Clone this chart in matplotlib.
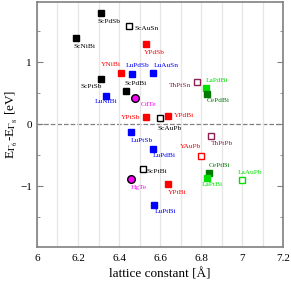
import matplotlib
matplotlib.use("Agg")
import matplotlib.pyplot as plt
from matplotlib.ticker import MultipleLocator, FixedLocator

plt.rcParams['font.family'] = ['Liberation Serif', 'DejaVu Serif']
plt.rcParams['mathtext.fontset'] = 'stix'

# compound, lattice constant [A], E_G6 - E_G8 [eV], group
names = ['ScPdSb', 'ScAuSn', 'ScNiBi', 'YPdSb', 'YNiBi', 'LuPdSb', 'LuAuSn',
         'ScPtSb', 'ScPdBi', 'LuNiBi', 'CdTe', 'YPtSb', 'ScAuPb', 'YPdBi',
         'ThPtSn', 'LaPdBi', 'CePdBi', 'LuPtSb', 'ThPtPb', 'LuPdBi', 'YAuPb',
         'ScPtBi', 'CePtBi', 'LaPtBi', 'LaAuPb', 'HgTe', 'YPtBi', 'LuPtBi']
lattice = [6.31, 6.45, 6.19, 6.533, 6.408, 6.463, 6.564,
           6.311, 6.434, 6.338, 6.48, 6.53, 6.60, 6.64,
           6.779, 6.824, 6.83, 6.457, 6.849, 6.564, 6.798,
           6.515, 6.839, 6.828, 7.0, 6.457, 6.64, 6.572]
gap = [1.795, 1.585, 1.39, 1.295, 0.834, 0.82, 0.834,
       0.73, 0.543, 0.463, 0.42, 0.113, 0.108, 0.14,
       0.677, 0.59, 0.49, -0.13, -0.18, -0.39, -0.51,
       -0.716, -0.78, -0.86, -0.90, -0.876, -0.97, -1.30]
groups = ['Sc', 'Sc_open', 'Sc', 'Y', 'Y', 'Lu', 'Lu',
          'Sc', 'Sc', 'Lu', 'II', 'Y', 'Sc_open', 'Y',
          'Th_open', 'La', 'Ce', 'Lu', 'Th_open', 'Lu', 'Y_open',
          'Sc_open', 'Ce', 'La', 'La_open', 'II', 'Y', 'Lu']

# marker style per group: colour, marker, filled
styles = {
    'Sc': ('black', 's', True),
    'Sc_open': ('black', 's', False),
    'Y': ('#ff0000', 's', True),
    'Y_open': ('#ff0000', 's', False),
    'Lu': ('#0000ff', 's', True),
    'La': ('#00e000', 's', True),
    'La_open': ('#00e000', 's', False),
    'Ce': ('#007a00', 's', True),
    'Th_open': ('#8b2252', 's', False),
    'II': ('#ff00ff', 'o', True),
}

# label offsets in points (dx, dy, horizontal alignment)
offsets = {
    'ScPdSb': (6, -6, 'center'), 'ScAuSn': (4, -2, 'left'), 'ScNiBi': (6, -6, 'center'),
    'YPdSb': (6, -6, 'center'), 'YNiBi': (-7, 6, 'center'), 'LuPdSb': (4, 6, 'center'),
    'LuAuSn': (10, 5, 'center'), 'ScPtSb': (-7, -5, 'center'), 'ScPdBi': (7, 5, 'center'),
    'LuNiBi': (0, -4.5, 'center'), 'CdTe': (4, -4.5, 'left'), 'YPtSb': (-4, 0, 'right'),
    'ScAuPb': (7, -8, 'center'), 'YPdBi': (4, 0.5, 'left'), 'ThPtSn': (-4, -2.5, 'right'),
    'LaPdBi': (0, 5, 'left'), 'CePdBi': (0, -5, 'left'), 'LuPtSb': (0, -6, 'left'),
    'ThPtPb': (0, -6, 'left'), 'LuPdBi': (0, -5, 'left'), 'YAuPb': (-7, 6.5, 'center'),
    'ScPtBi': (3, -2, 'left'), 'CePtBi': (0, 5.5, 'left'), 'LaPtBi': (-4, -5, 'left'),
    'LaAuPb': (-3, 5.5, 'left'), 'HgTe': (0, -6, 'left'), 'YPtBi': (0, -6, 'left'),
    'LuPtBi': (0, -5, 'left'),
}

fig = plt.figure(figsize=(2.91, 2.84), dpi=100)
ax = fig.add_axes([0.127, 0.130, 0.846, 0.864])

for i, name in enumerate(names):
    color, marker, filled = styles[groups[i]]
    face = color if filled else 'white'
    edge = 'black' if marker == 'o' else color
    size = 5.5 if marker == 'o' else 5
    ax.plot(lattice[i], gap[i], marker=marker, ms=size, mfc=face, mec=edge,
            mew=1.0, ls='none', zorder=3)
    dx, dy, ha = offsets[name]
    label_color = 'black' if groups[i].startswith('Sc') else color
    ax.annotate(name, (lattice[i], gap[i]), xytext=(dx, dy),
                textcoords='offset points', ha=ha, va='center',
                fontsize=5.3, color=label_color, zorder=4)

ax.axhline(0, color='grey', ls='--', lw=0.9, zorder=1)

ax.set_xlim(6, 7.2)
ax.set_ylim(-1.98, 1.98)
ax.xaxis.set_minor_locator(MultipleLocator(0.1))
ax.yaxis.set_major_locator(FixedLocator([-1, 0, 1]))
ax.yaxis.set_minor_locator(FixedLocator([-1.5, -0.5, 0.5, 1.5]))
ax.set_xticks([6, 6.2, 6.4, 6.6, 6.8, 7, 7.2])
ax.set_xticklabels(['6', '6.2', '6.4', '6.6', '6.8', '7', '7.2'])
ax.grid(True, which='both', axis='x', color='#e6e6e6', lw=0.9, zorder=0)
ax.tick_params(axis='both', which='both', direction='in', labelsize=8,
               color='grey', right=True)
ax.tick_params(axis='x', which='both', length=0, pad=5)
ax.tick_params(axis='y', which='major', length=4)
ax.tick_params(axis='y', which='minor', length=2.5)
for s in ax.spines.values():
    s.set_color('grey')
    s.set_linewidth(1.2)

ax.set_xlabel('lattice constant [Å]', fontsize=9.5, labelpad=4)
ax.set_ylabel(r'E$_{\Gamma_6}$-E$_{\Gamma_8}$ [eV]', fontsize=9.5, labelpad=0)

fig.savefig('out.png', dpi=100)
